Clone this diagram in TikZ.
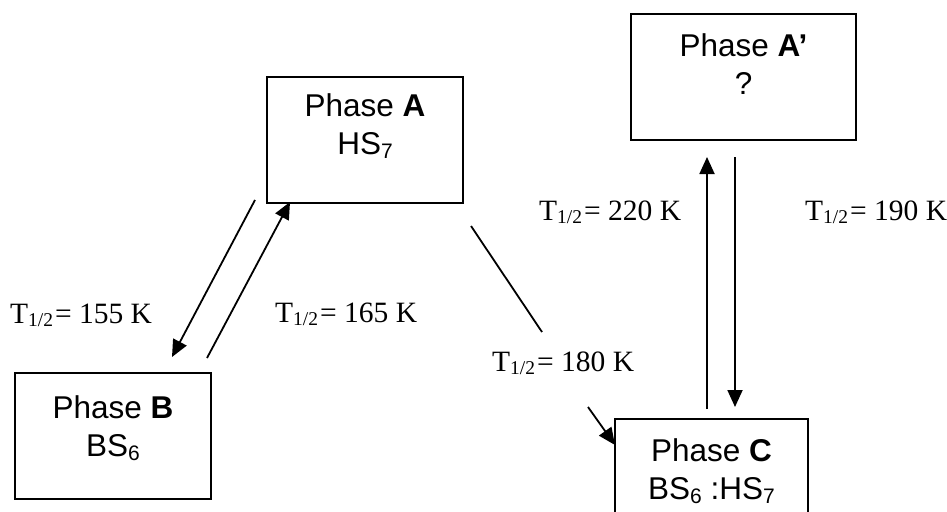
\documentclass[tikz,border=0pt]{standalone}
\usepackage{fontspec}
\setmainfont{Liberation Serif}
\newfontfamily\boxfont{Liberation Sans}
\usetikzlibrary{arrows.meta}
\newcommand{\Thalf}{T\raisebox{-3pt}{\fontsize{19.5}{19.5}\selectfont 1/2}\hspace{2pt}}
\newcommand{\bsub}[1]{\raisebox{-4pt}{\fontsize{21}{21}\selectfont #1}}
\tikzset{
  box/.style={draw, line width=2pt, inner sep=0pt, outer sep=0pt},
  boxtext/.style={anchor=north, inner sep=0pt, align=center,
    font=\boxfont\fontsize{31.5}{38}\selectfont},
  lbl/.style={inner sep=0pt, font=\fontsize{29.5}{32}\selectfont},
  conn/.style={line width=1.8pt},
  arr/.style={conn, -{Triangle[length=17pt,width=15pt]}}
}
\begin{document}
\begin{tikzpicture}[x=1pt,y=-1pt]
\useasboundingbox (0,0) rectangle (947,511);
\clip (0,0) rectangle (947,511);
% boxes
\node[box, minimum width=196pt, minimum height=126pt] (A) at (365,140) {};
\node[box, minimum width=196pt, minimum height=126pt] (B) at (113,436) {};
\node[box, minimum width=225pt, minimum height=126pt] (Ap) at (743.5,77) {};
\node[box, minimum width=193pt, minimum height=126pt] (C) at (711.5,482) {};
% box texts
\node[boxtext] (At) at (365,93) {Phase \textbf{A}\\HS\bsub{7}};
\node[boxtext] (Bt) at (113,395) {Phase \textbf{B}\\BS\bsub{6}};
\node[boxtext] (Apt) at (743.5,33) {Phase \textbf{A’}\\?};
\node[boxtext] (Ct) at (711.5,438) {Phase \textbf{C}\\BS\bsub{6} :HS\bsub{7}};
% connector end points
\coordinate (ab1) at (255,200);
\coordinate (ab2) at (172,357);
\coordinate (ba1) at (207,358);
\coordinate (ba2) at (290,202);
\coordinate (ac1) at (471,226);
\coordinate (ac2) at (542,332);
\coordinate (ac3) at (588,407);
\coordinate (ac4) at (615,445);
\coordinate (ca1) at (707,409);
\coordinate (ca2) at (707,157);
\coordinate (aca1) at (735,157);
\coordinate (aca2) at (735,407);
% connectors
\draw[arr] (ab1) -- (ab2);
\draw[arr] (ba1) -- (ba2);
\draw[conn] (ac1) -- (ac2);
\draw[arr] (ac3) -- (ac4);
\draw[arr] (ca1) -- (ca2);
\draw[arr] (aca1) -- (aca2);
% labels
\node[lbl, anchor=base west] (l155) at (10,323) {\Thalf= 155 K};
\node[lbl, anchor=base west] (l165) at (275,322) {\Thalf= 165 K};
\node[lbl, anchor=base west] (l180) at (492,371) {\Thalf= 180 K};
\node[lbl, anchor=base west] (l220) at (539,220) {\Thalf= 220 K};
\node[lbl, anchor=base west] (l190) at (805,220) {\Thalf= 190 K};
\end{tikzpicture}
\end{document}
